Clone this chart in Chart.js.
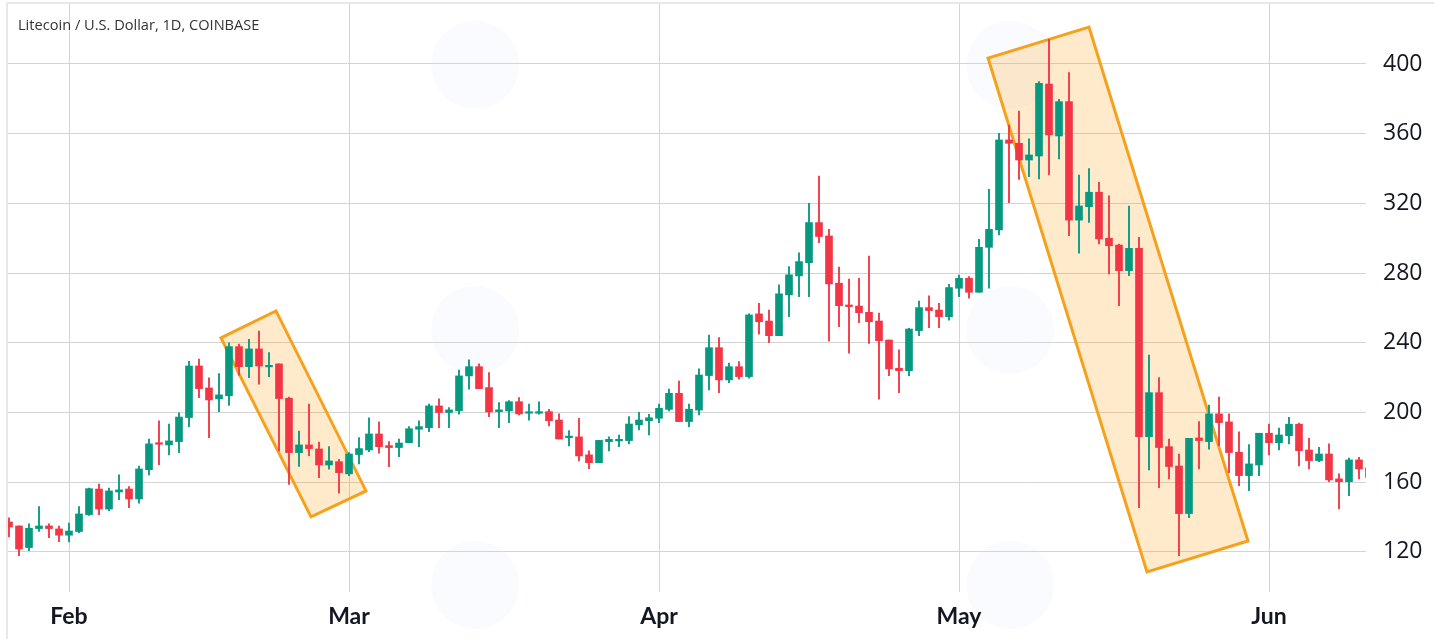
<!DOCTYPE html>
<html>
<head>
<meta charset="utf-8">
<title>Litecoin / U.S. Dollar, 1D, COINBASE</title>
<script src="https://cdn.jsdelivr.net/npm/chart.js@4.4.1/dist/chart.umd.min.js"></script>
<style>
  html, body { margin: 0; padding: 0; background: #fff; }
  #wrap { position: relative; width: 1434px; height: 639px; }
  #title { position: absolute; left: 18px; top: 14px; font: 14.6px "Open Sans", sans-serif; color: #333; }
</style>
</head>
<body>
<div id="wrap">
  <canvas id="ltc"></canvas>
  <div id="title">Litecoin / U.S. Dollar, 1D, COINBASE</div>
</div>
<script>
// daily candles, Jan 26 - Jun 11
const dates = [
  'Jan 26','Jan 27','Jan 28','Jan 29','Jan 30','Jan 31',
  'Feb 1','Feb 2','Feb 3','Feb 4','Feb 5','Feb 6','Feb 7','Feb 8','Feb 9','Feb 10',
  'Feb 11','Feb 12','Feb 13','Feb 14','Feb 15','Feb 16','Feb 17','Feb 18','Feb 19','Feb 20',
  'Feb 21','Feb 22','Feb 23','Feb 24','Feb 25','Feb 26','Feb 27','Feb 28',
  'Mar 1','Mar 2','Mar 3','Mar 4','Mar 5','Mar 6','Mar 7','Mar 8','Mar 9','Mar 10',
  'Mar 11','Mar 12','Mar 13','Mar 14','Mar 15','Mar 16','Mar 17','Mar 18','Mar 19','Mar 20',
  'Mar 21','Mar 22','Mar 23','Mar 24','Mar 25','Mar 26','Mar 27','Mar 28','Mar 29','Mar 30','Mar 31',
  'Apr 1','Apr 2','Apr 3','Apr 4','Apr 5','Apr 6','Apr 7','Apr 8','Apr 9','Apr 10',
  'Apr 11','Apr 12','Apr 13','Apr 14','Apr 15','Apr 16','Apr 17','Apr 18','Apr 19','Apr 20',
  'Apr 21','Apr 22','Apr 23','Apr 24','Apr 25','Apr 26','Apr 27','Apr 28','Apr 29','Apr 30',
  'May 1','May 2','May 3','May 4','May 5','May 6','May 7','May 8','May 9','May 10',
  'May 11','May 12','May 13','May 14','May 15','May 16','May 17','May 18','May 19','May 20',
  'May 21','May 22','May 23','May 24','May 25','May 26','May 27','May 28','May 29','May 30','May 31',
  'Jun 1','Jun 2','Jun 3','Jun 4','Jun 5','Jun 6','Jun 7','Jun 8','Jun 9','Jun 10','Jun 11'
];

const opens = [
  137.2,134.9,122.5,133.4,134.9,133.2,
  129.6,131.7,141.4,156.1,144.6,154.4,156.1,150.4,167.2,182.2,
  181.4,183.3,197.1,226.7,214.1,207.8,209.6,237.8,226.3,236.5,
  226.2,227.9,208.2,177.0,181.4,179.1,169.9,171.8,
  164.8,175.9,178.5,187.7,181.0,179.9,182.7,190.4,191.3,203.8,
  200.0,201.0,221.0,226.3,214.3,200.5,200.9,206.2,199.6,199.6,
  200.5,195.7,185.6,186.0,175.7,171.2,183.3,183.7,183.9,192.9,195.3,
  196.7,201.8,211.0,194.8,201.4,221.2,237.2,218.7,226.3,220.6,
  256.6,252.5,244.1,267.5,278.4,286.0,309.0,301.3,274.2,261.7,
  261.1,257.5,252.5,241.6,225.4,224.0,247.0,260.2,258.8,255.0,
  271.3,277.0,269.0,294.8,304.8,356.4,354.5,344.9,347.2,388.5,
  358.7,378.4,310.4,318.1,326.4,300.0,296.1,281.4,294.2,186.1,
  211.4,180.4,169.3,142.0,185.4,183.3,199.2,194.6,177.2,163.8,169.9,
  188.1,182.7,186.7,193.3,178.5,172.4,176.2,161.9,160.3,172.8,168.3
];

const highs = [
  139.5,135.0,136.1,146.0,136.1,134.9,
  136.6,146.0,156.7,159.0,156.7,164.2,157.5,169.3,184.8,195.2,
  193.4,199.8,229.4,230.7,219.9,222.3,240.0,239.2,242.0,246.8,
  234.4,228.0,208.8,189.4,204.9,183.0,180.4,173.2,
  177.0,185.6,197.0,194.6,183.3,184.8,191.9,195.2,204.8,207.8,
  202.8,224.4,230.2,227.9,222.9,205.7,206.8,208.5,204.9,206.2,
  201.8,199.2,189.6,196.7,178.0,184.0,186.1,187.1,197.6,200.1,199.0,
  204.9,213.5,218.1,204.9,225.0,244.5,243.0,228.3,229.2,256.6,
  262.7,258.8,273.3,283.7,291.7,320.0,335.7,305.1,283.4,276.6,
  277.0,289.8,257.0,241.6,235.9,248.3,264.0,266.9,262.7,273.6,
  278.9,278.0,299.4,328.1,360.2,365.0,373.0,357.0,389.9,414.2,
  379.7,395.0,336.3,340.0,332.1,324.3,296.7,318.5,300.6,233.0,
  220.0,184.8,176.2,185.2,194.8,204.3,208.8,199.2,188.9,181.6,188.1,
  193.3,191.0,197.3,193.9,185.2,180.0,182.0,164.8,173.8,174.3,171.0
];

const lows = [
  128.6,117.9,120.7,131.7,128.2,125.9,
  125.8,131.1,141.0,141.4,143.7,150.0,145.4,148.0,164.2,170.0,
  175.6,177.0,191.9,208.5,185.6,200.5,204.0,221.5,220.0,216.2,
  220.6,178.0,158.8,169.0,175.2,162.6,167.5,153.7,
  163.8,170.5,177.6,176.6,168.9,174.7,182.7,180.4,189.0,191.3,
  191.3,199.0,213.4,213.7,197.6,191.3,194.2,198.6,195.6,199.0,
  192.3,184.8,180.8,172.2,167.8,171.2,178.0,180.4,182.0,190.0,187.1,
  194.2,200.9,194.8,191.9,198.6,213.0,211.4,217.1,219.1,219.7,
  244.9,240.1,244.1,255.0,266.5,266.5,297.5,241.0,249.3,234.0,
  251.6,239.7,207.6,221.1,211.4,221.1,244.1,248.7,248.7,253.0,
  266.5,265.6,269.0,271.3,301.9,320.4,333.8,335.3,334.0,336.3,
  345.5,301.5,291.4,309.1,296.7,279.5,261.3,278.5,145.4,167.0,
  156.9,161.9,117.9,139.7,167.6,179.0,181.0,165.5,158.0,155.2,163.8,
  175.6,178.5,182.0,169.3,167.6,171.8,160.3,144.7,152.3,161.9,161.0
];

const closes = [
  134.3,121.7,133.6,134.9,133.4,129.6,
  132.0,141.8,156.3,144.6,155.0,155.6,150.4,167.6,182.0,181.8,
  183.7,197.4,226.7,213.7,207.2,210.1,237.8,226.3,236.5,226.7,
  226.8,208.0,177.0,181.4,179.3,169.9,172.2,165.5,
  176.2,179.3,187.7,180.4,179.9,182.5,190.7,191.9,203.8,200.0,
  201.5,221.0,226.3,213.7,200.3,201.5,206.2,199.2,200.2,200.5,
  195.3,184.8,186.4,175.1,171.2,184.0,184.6,184.6,193.4,195.7,197.0,
  202.4,211.0,194.8,201.9,221.5,237.2,218.7,226.3,220.6,256.0,
  252.1,244.1,268.1,279.0,286.6,309.0,301.0,273.8,261.3,260.8,
  257.3,252.1,241.2,225.0,224.0,247.9,260.2,258.5,255.0,271.7,
  277.0,269.0,294.8,305.1,356.4,354.5,344.9,347.8,388.9,359.3,
  378.4,310.4,318.5,326.4,299.6,295.7,281.4,294.2,186.1,211.4,
  179.9,169.0,142.0,185.2,183.9,199.2,194.2,177.0,163.8,170.5,188.1,
  182.7,187.1,193.3,178.1,172.4,176.2,161.3,160.3,172.8,167.6,162.8
];

const priceTicks = [120, 160, 200, 240, 280, 320, 360, 400];

// drawn channels: corners as [day index, price]
const channels = [
  [[21.2, 242.8], [26.7, 258.3], [35.7, 155.0], [30.2, 140.1]],
  [[97.9, 403.4], [108.0, 421.2], [123.9, 126.3], [113.8, 108.5]]
];

const upColor = '#089981';
const downColor = '#f23645';
const gridColor = '#d4d4d4';

// month starts get a tick and a grid line
const monthIdx = dates.map((d, i) => d.endsWith(' 1') ? i : -1).filter(i => i >= 0);

function candleColor(ctx) {
  const i = ctx.dataIndex;
  return closes[i] >= opens[i] ? upColor : downColor;
}

const extras = {
  id: 'extras',
  beforeDraw(chart) {
    // faint watermark blobs
    const { ctx, chartArea: a } = chart;
    ctx.save();
    ctx.fillStyle = 'rgba(190,205,235,0.07)';
    for (const fx of [0.344, 0.738]) {
      for (const fy of [0.105, 0.555, 0.988]) {
        ctx.beginPath();
        ctx.arc(a.left + fx * (a.right - a.left), a.top + fy * (a.bottom - a.top), 44, 0, Math.PI * 2);
        ctx.fill();
      }
    }
    ctx.restore();
  },
  beforeDatasetsDraw(chart) {
    const { ctx, scales: { x, y } } = chart;
    ctx.save();
    for (const c of channels) {
      ctx.beginPath();
      c.forEach((p, k) => {
        const px = x.getPixelForValue(p[0]);
        const py = y.getPixelForValue(p[1]);
        if (k === 0) ctx.moveTo(px, py); else ctx.lineTo(px, py);
      });
      ctx.closePath();
      ctx.fillStyle = 'rgba(255,152,0,0.2)';
      ctx.fill();
      ctx.lineWidth = 3;
      ctx.strokeStyle = '#f6a11c';
      ctx.stroke();
    }
    ctx.restore();
  },
  afterDraw(chart) {
    const { ctx, chartArea: a, width, height } = chart;
    ctx.save();
    ctx.strokeStyle = '#e8e8e8';
    ctx.lineWidth = 2;
    ctx.beginPath();
    ctx.moveTo(a.left - 1, a.top);
    ctx.lineTo(width, a.top);
    ctx.moveTo(a.left - 1, a.top);
    ctx.lineTo(a.left - 1, height);
    ctx.stroke();
    ctx.restore();
  }
};

new Chart(document.getElementById('ltc'), {
  type: 'bar',
  data: {
    datasets: [
      {
        label: 'wick',
        data: dates.map((d, i) => ({ x: i, y: [lows[i], highs[i]] })),
        backgroundColor: candleColor,
        barThickness: 1.2,
        grouped: false,
        clip: 0
      },
      {
        label: 'body',
        data: dates.map((d, i) => ({ x: i, y: [opens[i], closes[i]] })),
        backgroundColor: candleColor,
        barThickness: 7,
        minBarLength: 1.5,
        grouped: false,
        clip: 0
      }
    ]
  },
  options: {
    responsive: true,
    maintainAspectRatio: false,
    animation: false,
    layout: { padding: { left: 8, top: 3, right: 0, bottom: 0 } },
    plugins: {
      legend: { display: false },
      tooltip: { enabled: false }
    },
    scales: {
      x: {
        type: 'linear',
        min: -0.1,
        max: 135.7,
        offset: false,
        afterBuildTicks: scale => { scale.ticks = monthIdx.map(v => ({ value: v })); },
        afterFit: scale => {
          scale.height = 47;
          scale.paddingLeft = 0;
          scale.paddingRight = 0;
        },
        ticks: {
          autoSkip: false,
          maxRotation: 0,
          padding: 11,
          color: '#131722',
          font: { family: 'Lato', size: 23, weight: 'bold' },
          callback: v => dates[v] ? dates[v].split(' ')[0] : ''
        },
        grid: { color: gridColor, drawTicks: false, offset: false },
        border: { display: false }
      },
      y: {
        type: 'linear',
        position: 'right',
        min: 97,
        max: 435,
        beginAtZero: false,
        afterBuildTicks: scale => { scale.ticks = priceTicks.map(v => ({ value: v })); },
        afterFit: scale => {
          scale.width = 68;
          scale.paddingTop = 0;
          scale.paddingBottom = 0;
        },
        ticks: {
          padding: 17,
          color: '#131722',
          font: { family: 'Open Sans', size: 23 }
        },
        grid: { color: gridColor, drawTicks: false },
        border: { display: false }
      }
    }
  },
  plugins: [extras]
});
</script>
</body>
</html>
